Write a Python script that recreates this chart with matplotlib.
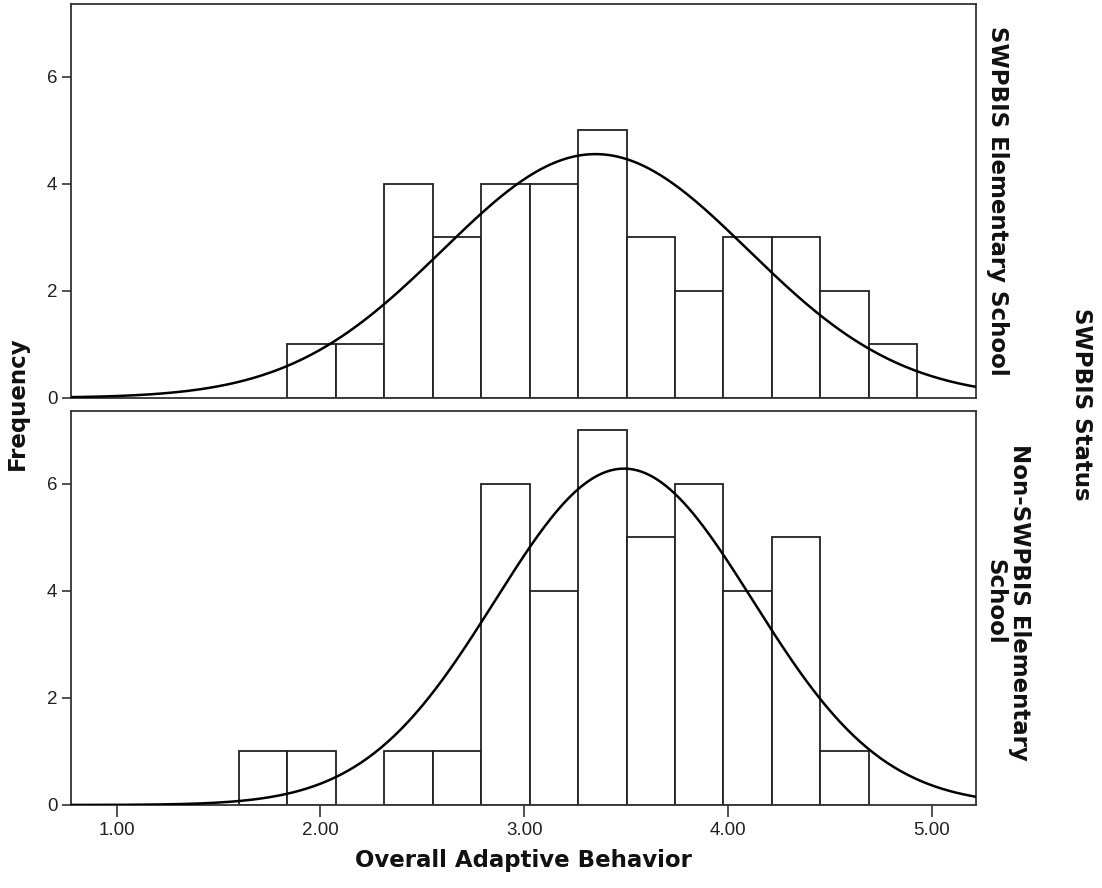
import numpy as np
import matplotlib
matplotlib.use("Agg")
import matplotlib.pyplot as plt

plt.rcParams['font.family'] = ['Liberation Sans', 'DejaVu Sans']

# Histogram bins for Overall Adaptive Behavior (14 equal bins)
bin_lo, bin_hi, n_bins = 1.60, 4.93, 14

# Frequencies per bin
swpbis_counts = [0, 1, 1, 4, 3, 4, 4, 5, 3, 2, 3, 3, 2, 1]
non_swpbis_counts = [1, 1, 0, 1, 1, 6, 4, 7, 5, 6, 4, 5, 1, 0]

# Normal curve parameters for each group
swpbis_mean, swpbis_sd = 3.35, 0.75
non_swpbis_mean, non_swpbis_sd = 3.49, 0.634

panel_labels = ["SWPBIS Elementary School", "Non-SWPBIS Elementary\nSchool"]
x_ticks = [1.0, 2.0, 3.0, 4.0, 5.0]
y_ticks = [0, 2, 4, 6]

edges = np.linspace(bin_lo, bin_hi, n_bins + 1)
width = edges[1] - edges[0]

fig = plt.figure(figsize=(11.02, 8.88), dpi=100)
ax_top = fig.add_axes([0.064, 0.552, 0.822, 0.4435])
ax_bot = fig.add_axes([0.064, 0.0935, 0.822, 0.4435])

line_col = "#333333"
groups = [
    (ax_top, swpbis_counts, swpbis_mean, swpbis_sd),
    (ax_bot, non_swpbis_counts, non_swpbis_mean, non_swpbis_sd),
]

xs = np.linspace(0.77, 5.22, 400)
for ax, counts, mu, sd in groups:
    counts = np.array(counts)
    keep = counts > 0
    ax.bar(edges[:-1][keep], counts[keep], width=width, align="edge",
           facecolor="white", edgecolor="#222222", linewidth=1.3, zorder=2)
    n = counts.sum()
    curve = n * width * np.exp(-0.5 * ((xs - mu) / sd) ** 2) / (sd * np.sqrt(2 * np.pi))
    ax.plot(xs, curve, color="black", linewidth=1.8, zorder=3)
    ax.set_xlim(0.773, 5.22)
    ax.set_ylim(0, 7.36)
    ax.set_yticks(y_ticks)
    ax.set_yticklabels([str(t) for t in y_ticks])
    for s in ax.spines.values():
        s.set_color(line_col)
        s.set_linewidth(1.3)
    ax.tick_params(axis="y", direction="out", length=6.5, width=1.2, color=line_col,
                   labelsize=13.5, pad=3, labelcolor="#222222")

ax_top.set_xticks([])
ax_bot.set_xticks(x_ticks)
ax_bot.set_xticklabels([f"{t:.2f}" for t in x_ticks])
ax_bot.tick_params(axis="x", direction="out", length=8.5, width=1.2, color=line_col,
                   labelsize=13.5, pad=4, labelcolor="#222222")

title_font = dict(family="DejaVu Sans", fontsize=16.5, fontweight="bold", color="#111111")
fig.text(0.016, 0.546, "Frequency", rotation=90, ha="center", va="center", **title_font)
fig.text(0.475, 0.031, "Overall Adaptive Behavior", ha="center", va="center", **title_font)
fig.text(0.905, 0.774, panel_labels[0], rotation=270, ha="center", va="center", **title_font)
fig.text(0.914, 0.322, panel_labels[1], rotation=270, ha="center", va="center",
         multialignment="center", linespacing=1.05, **title_font)
fig.text(0.981, 0.545, "SWPBIS Status", rotation=270, ha="center", va="center", **title_font)

fig.savefig("out.png", dpi=100, facecolor="white")
